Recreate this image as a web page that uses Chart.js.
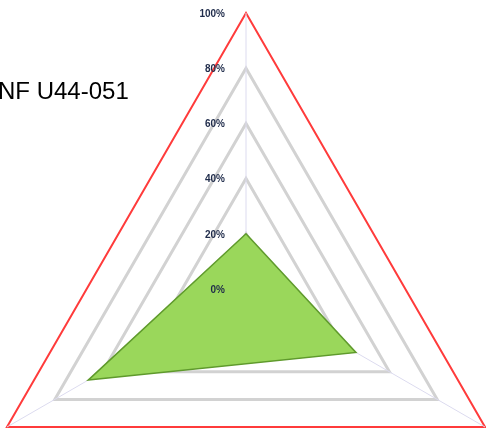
<!DOCTYPE html>
<html>
<head>
<meta charset="utf-8">
<script src="https://cdn.jsdelivr.net/npm/chart.js@4.4.0/dist/chart.umd.min.js"></script>
<style>
  html, body { margin: 0; padding: 0; background: #fff; }
  body { width: 486px; height: 430px; overflow: hidden; position: relative; }
  #wrap { position: absolute; left: -30px; top: -7px; width: 552px; height: 572px; }
  #title { position: absolute; left: -2px; top: 77px; font-family: "Liberation Sans", Arial, sans-serif;
           font-size: 24px; color: #000; white-space: nowrap; }
</style>
</head>
<body>
<div id="wrap"><canvas id="radar" width="552" height="572"></canvas></div>
<div id="title">NF U44-051</div>
<script>
const axes = ['Axe 1', 'Axe 2', 'Axe 3'];   // haut, bas droite, bas gauche
const values = [20, 46, 66];
const tickValues = [0, 20, 40, 60, 80, 100];
const tickLabels = ['0%', '20%', '40%', '60%', '80%', '100%'];

// labels des graduations dessinés à gauche de l'axe vertical
const tickLabelPlugin = {
    id: 'tickLabels',
    afterDraw(chart) {
        const scale = chart.scales.r;
        const ctx = chart.ctx;
        ctx.save();
        ctx.font = 'bold 10px "Liberation Sans", sans-serif';
        ctx.fillStyle = '#1f2b4a';
        ctx.textAlign = 'right';
        ctx.textBaseline = 'middle';
        tickValues.forEach((v, i) => {
            const y = scale.yCenter - scale.getDistanceFromCenterForValue(v);
            ctx.fillText(tickLabels[i], scale.xCenter - 21, y + 1);
        });
        ctx.restore();
    }
};

new Chart(document.getElementById('radar'), {
    type: 'radar',
    data: {
        labels: axes,
        datasets: [{
            data: values,
            backgroundColor: '#9ad75b',
            borderColor: '#5f9a2c',
            borderWidth: 1.5,
            pointRadius: 0
        }]
    },
    options: {
        responsive: false,
        animation: false,
        devicePixelRatio: 1,
        layout: { padding: { top: 20 } },
        plugins: { legend: { display: false }, tooltip: { enabled: false } },
        scales: {
            r: {
                min: 0,
                max: 100,
                ticks: { stepSize: 20, display: false },
                pointLabels: { display: false },
                angleLines: { color: '#dcdbef', lineWidth: 1 },
                grid: {
                    color: ctx => ctx.tick.value === 100 ? '#ff3b3b' : '#d2d2d2',
                    lineWidth: ctx => ctx.tick.value === 100 ? 2 : 3
                }
            }
        }
    },
    plugins: [tickLabelPlugin]
});
</script>
</body>
</html>
